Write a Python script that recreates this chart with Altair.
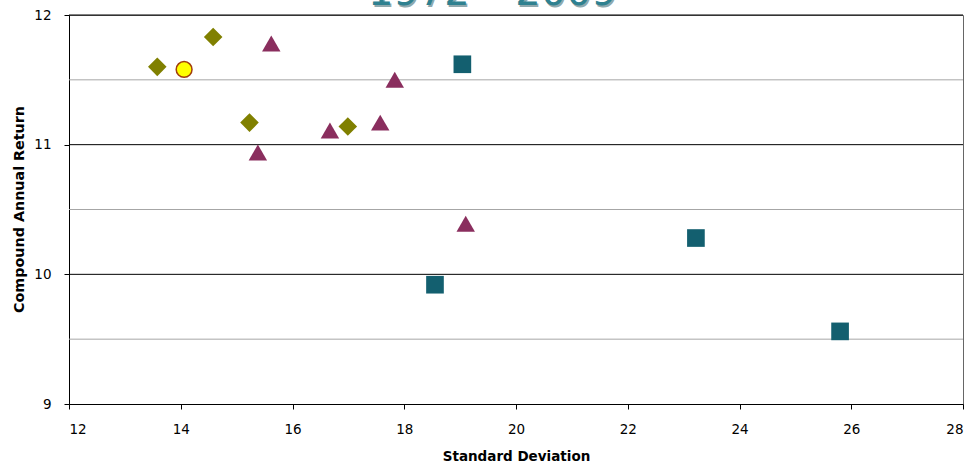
import altair as alt
import pandas as pd

# ---- data ----
title_text = ["1972 – 2009"]
x_ticks = [12, 14, 16, 18, 20, 22, 24, 26, 28]
y_ticks = [9, 10, 11, 12]
grid_major = [10, 11, 12]
grid_minor = [9.5, 10.5, 11.5]

diamond_sd = [13.58, 14.58, 15.23, 16.99]
diamond_ret = [11.60, 11.83, 11.17, 11.14]

circle_sd = [14.06]
circle_ret = [11.58]

triangle_sd = [15.62, 17.83, 15.38, 16.67, 17.57, 19.10]
triangle_ret = [11.78, 11.50, 10.94, 11.11, 11.17, 10.39]

square_sd = [19.04, 18.55, 23.22, 25.80]
square_ret = [11.62, 9.92, 10.28, 9.56]

W, H = 894, 389
FONT = "DejaVu Sans"

xscale = alt.Scale(domain=[12, 28], nice=False, zero=False)
yscale = alt.Scale(domain=[9, 12], nice=False, zero=False)

x_axis = alt.Axis(
    values=x_ticks, grid=False, tickSize=5, tickColor="#000", domainColor="#000",
    labelFont=FONT, labelFontSize=13.5, labelColor="#000", labelPadding=13,
    title="Standard Deviation", titleFont=FONT, titleFontSize=13.5, titleFontWeight="bold",
    titleColor="#000", titleY=56, titleBaseline="alphabetic",
)
y_axis = alt.Axis(
    values=y_ticks, grid=False, tickSize=5, tickColor="#000", domainColor="#000",
    labelFont=FONT, labelFontSize=13.5, labelColor="#000", labelPadding=13,
    title="Compound Annual Return", titleFont=FONT, titleFontSize=14.3, titleFontWeight="bold",
    titleColor="#000", titleX=-45.5, titleY=194, titleBaseline="alphabetic",
)


def pts(xs, ys):
    return pd.DataFrame({"sd": xs, "ret": ys})


def enc(chart):
    return chart.encode(
        x=alt.X("sd:Q", scale=xscale, axis=x_axis),
        y=alt.Y("ret:Q", scale=yscale, axis=y_axis),
    )


minor = alt.Chart(pd.DataFrame({"ret": grid_minor})).mark_rule(
    color="#A6A6A6", strokeWidth=1
).encode(y=alt.Y("ret:Q", scale=yscale, axis=y_axis))

major = alt.Chart(pd.DataFrame({"ret": grid_major})).mark_rule(
    color="#000000", strokeWidth=1
).encode(y=alt.Y("ret:Q", scale=yscale, axis=y_axis))

diamonds = enc(alt.Chart(pts(diamond_sd, diamond_ret)).mark_point(
    shape="diamond", filled=True, size=345, color="#808000", opacity=1
))
squares = enc(alt.Chart(pts(square_sd, square_ret)).mark_point(
    shape="square", filled=True, size=312, color="#135F6F", opacity=1
))
triangles = enc(alt.Chart(pts(triangle_sd, triangle_ret)).mark_point(
    shape="triangle-up", filled=True, size=340, color="#8A2E5E", opacity=1
))
circles = enc(alt.Chart(pts(circle_sd, circle_ret)).mark_point(
    shape="circle", filled=True, size=250, fill="#FFFF00", stroke="#A23E0C",
    strokeWidth=1.5, opacity=1, fillOpacity=1
))

tdf = pd.DataFrame({"t": title_text})
title_shadow = alt.Chart(tdf).mark_text(
    font=FONT, fontSize=40, color="#8FA9AE", align="center", baseline="alphabetic"
).encode(text="t:N", x=alt.value(425), y=alt.value(-8.5))
title_main = alt.Chart(tdf).mark_text(
    font=FONT, fontSize=40, color="#2F8190", align="center", baseline="alphabetic"
).encode(text="t:N", x=alt.value(423.5), y=alt.value(-10))

chart = alt.layer(
    minor, major, title_shadow, title_main, diamonds, circles, triangles, squares
).properties(
    width=W, height=H,
    autosize=alt.AutoSizeParams(type="none"),
    padding={"left": 69, "top": 15, "right": 11, "bottom": 60},
    background="white",
).configure_view(stroke="#666666", strokeWidth=1)

chart.save("out.html", embed_options={"renderer": "svg", "actions": False})
